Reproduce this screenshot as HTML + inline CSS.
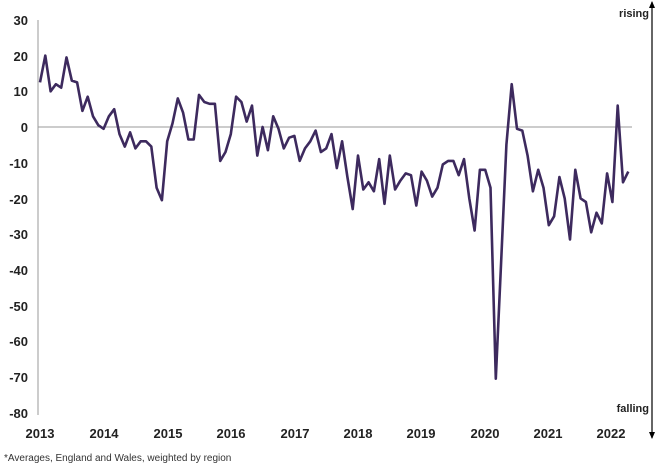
<!DOCTYPE html>
<html><head><meta charset="utf-8"><style>
body{margin:0;background:#fff;width:662px;height:467px;overflow:hidden;font-family:"Liberation Sans",Arial,sans-serif}
</style></head><body>
<svg id="s" width="662" height="467" xmlns="http://www.w3.org/2000/svg" font-family="Liberation Sans, Arial, sans-serif">
<line x1="38" y1="20" x2="38" y2="415" stroke="#999" stroke-width="1"/>
<line x1="38" y1="127" x2="632" y2="127" stroke="#999" stroke-width="1"/>
<g font-size="13" font-weight="bold" fill="#222" text-anchor="end">
<text x="28" y="25">30</text><text x="28" y="61">20</text><text x="28" y="96">10</text>
<text x="28" y="132">0</text><text x="28" y="168">-10</text><text x="28" y="204">-20</text>
<text x="28" y="239">-30</text><text x="28" y="275">-40</text><text x="28" y="311">-50</text>
<text x="28" y="346">-60</text><text x="28" y="382">-70</text><text x="28" y="418">-80</text>
</g>
<g font-size="13" font-weight="bold" fill="#222" text-anchor="middle">
<text x="40" y="438">2013</text><text x="104" y="438">2014</text><text x="168" y="438">2015</text>
<text x="231" y="438">2016</text><text x="295" y="438">2017</text><text x="358" y="438">2018</text>
<text x="421" y="438">2019</text><text x="485" y="438">2020</text><text x="548" y="438">2021</text>
<text x="611" y="438">2022</text>
</g>
<text x="4" y="461" font-size="10" fill="#333">*Averages, England and Wales, weighted by region</text>
<line x1="652" y1="2" x2="652" y2="438" stroke="#000" stroke-width="1.2"/>
<polygon points="649,8 655,8 652,1" fill="#000"/>
<polygon points="649,432 655,432 652,439" fill="#000"/>
<text x="649" y="17" font-size="11" font-weight="bold" text-anchor="end" fill="#222">rising</text>
<text x="649" y="412" font-size="11" font-weight="bold" text-anchor="end" fill="#222">falling</text>
<polyline id="p" fill="none" stroke="#3d2a5e" stroke-width="2.6" stroke-linejoin="round"/>
</svg>
<script>
var v=[12.5,20,10,12,11,19.5,13,12.5,4.5,8.5,3,0.5,
-0.5,3,5,-2,-5.5,-1.5,-6,-4,-4,-5.5,-17,-20.5,
-4,1,8,4,-3.5,-3.5,9,7,6.5,6.5,-9.5,-7,
-2,8.5,7,1.5,6,-8,0,-6.5,3,-0.5,-6,-3,
-2.5,-9.5,-6,-4,-1,-7,-6,-2,-11.5,-4,-14,-23,
-8,-17.5,-15.5,-18,-9,-21.5,-8,-17.5,-15,-13,-13.5,-22,
-12.5,-15,-19.5,-17,-10.5,-9.5,-9.5,-13.5,-9,-20,-29,-12,
-12,-17,-70.5,-38,-5,12,-0.5,-1,-8,-18,-12,-17,
-27.5,-25,-14,-20,-31.5,-12,-20,-21,-29.5,-24,-27,-13,
-21,6,-15.5,-12.5];
var pts=v.map(function(y,i){return (40+i*5.3).toFixed(1)+","+(127-y*3.57).toFixed(1)}).join(" ");
document.getElementById("p").setAttribute("points",pts);
</script>
</body></html>
